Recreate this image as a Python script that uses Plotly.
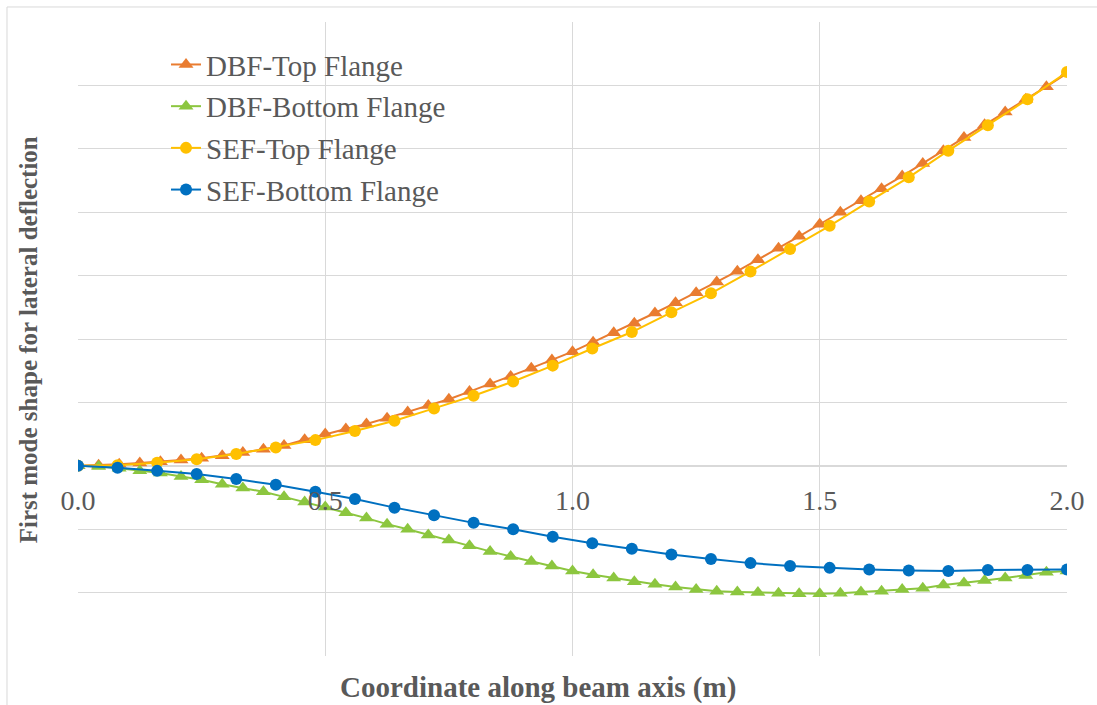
import plotly.graph_objects as go

# Stations along the beam (m)
x_dbf = [i / 24 for i in range(49)]          # 49 nodes, DBF model
x_sef = [round(i * 0.08, 2) for i in range(26)]  # 26 nodes, SEF model

# First lateral mode shape ordinates
dbf_top = [0.00, 0.01, 0.025, 0.045, 0.065, 0.09, 0.12, 0.16, 0.21, 0.26,
           0.32, 0.41, 0.50, 0.58, 0.66, 0.75, 0.85, 0.95, 1.05, 1.17,
           1.29, 1.41, 1.54, 1.67, 1.80, 1.95, 2.10, 2.25, 2.41, 2.57,
           2.73, 2.90, 3.07, 3.25, 3.43, 3.62, 3.81, 4.00, 4.18, 4.37,
           4.57, 4.77, 4.97, 5.18, 5.38, 5.58, 5.78, 5.98, 6.19]

dbf_bottom = [0.00, -0.01, -0.04, -0.08, -0.115, -0.17, -0.22, -0.29, -0.35, -0.41,
              -0.49, -0.57, -0.65, -0.74, -0.825, -0.92, -1.00, -1.09, -1.17, -1.26,
              -1.35, -1.43, -1.51, -1.58, -1.66, -1.72, -1.77, -1.83, -1.87, -1.91,
              -1.95, -1.98, -1.99, -2.00, -2.01, -2.02, -2.02, -2.01, -1.99, -1.98,
              -1.95, -1.93, -1.88, -1.85, -1.81, -1.77, -1.73, -1.68, -1.66]

sef_top = [0.00, 0.01, 0.05, 0.105, 0.185, 0.29, 0.405, 0.55, 0.71, 0.905,
           1.105, 1.33, 1.58, 1.85, 2.11, 2.42, 2.72, 3.065, 3.42, 3.785,
           4.17, 4.55, 4.97, 5.37, 5.78, 6.21]

sef_bottom = [0.00, -0.03, -0.08, -0.13, -0.21, -0.30, -0.41, -0.525, -0.66, -0.78,
              -0.90, -1.00, -1.12, -1.22, -1.31, -1.40, -1.47, -1.535, -1.58, -1.61,
              -1.635, -1.65, -1.66, -1.645, -1.645, -1.635]

x_ticks = [0.0, 0.5, 1.0, 1.5, 2.0]
x_tick_text = ["0.0", "0.5", "1.0", "1.5", "2.0"]

GRID = "#D9D9D9"
TEXT = "#595959"
SERIF = "'Liberation Serif', 'Times New Roman', Times, serif"

series = [
    ("DBF-Top Flange", x_dbf, dbf_top, "#E97C30", "triangle-up", 13),
    ("DBF-Bottom Flange", x_dbf, dbf_bottom, "#8CC63F", "triangle-up", 13),
    ("SEF-Top Flange", x_sef, sef_top, "#FFC000", "circle", 12),
    ("SEF-Bottom Flange", x_sef, sef_bottom, "#0070C0", "circle", 12),
]

fig = go.Figure()
for i, (name, xs, ys, color, symbol, size) in enumerate(series):
    fig.add_trace(go.Scatter(
        x=xs, y=ys, name=name, mode="lines+markers",
        legendgroup=f"g{i}",
        line=dict(color=color, width=2),
        marker=dict(color=color, symbol=symbol, size=size, line=dict(width=0)),
    ))

fig.update_layout(
    width=1097, height=705,
    margin=dict(l=78, r=30, t=22, b=49),
    paper_bgcolor="white", plot_bgcolor="white",
    showlegend=True,
    legend=dict(
        x=0.089, y=0.973, xanchor="left", yanchor="top",
        bgcolor="rgba(0,0,0,0)",
        font=dict(family=SERIF, size=29, color=TEXT),
        tracegroupgap=1,
        itemwidth=30,
    ),
    font=dict(family=SERIF, color=TEXT),
)

fig.update_xaxes(
    range=[0, 2], tickvals=x_ticks, ticktext=x_tick_text,
    showgrid=True, gridcolor=GRID, gridwidth=1,
    zeroline=False, showline=False,
    anchor="free", position=0.3,
    ticks="", ticklabelstandoff=15,
    tickfont=dict(family=SERIF, size=28, color=TEXT),
)
fig.update_yaxes(
    range=[-3, 7], dtick=1, showticklabels=False,
    showgrid=True, gridcolor=GRID, gridwidth=1,
    zeroline=True, zerolinecolor=GRID, zerolinewidth=1.5,
    showline=False,
)

# Axis titles
fig.add_annotation(
    text="<b>Coordinate along beam axis (m)</b>",
    xref="paper", yref="paper", x=0.465, y=-0.05,
    xanchor="center", yanchor="middle", showarrow=False,
    font=dict(family=SERIF, size=29, color=TEXT),
)
fig.add_annotation(
    text="<b>First mode shape for lateral deflection</b>",
    xref="paper", yref="paper", x=-0.0505, y=0.498,
    xanchor="center", yanchor="middle", showarrow=False, textangle=-90,
    font=dict(family=SERIF, size=25, color=TEXT),
)

# Chart-area frame
fig.add_shape(
    type="rect", xref="paper", yref="paper",
    x0=-0.0718, x1=1.04, y0=-0.09, y1=1.0237,
    line=dict(color="#D9D9D9", width=1), fillcolor="rgba(0,0,0,0)", layer="below",
)

fig.write_html("out.html")
